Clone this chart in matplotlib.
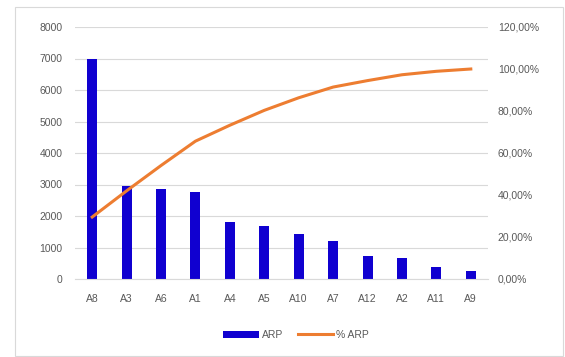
import numpy as np
import matplotlib.pyplot as plt
from matplotlib.patches import Rectangle
from matplotlib.ticker import FuncFormatter

categories = ["A8", "A3", "A6", "A1", "A4", "A5", "A10", "A7", "A12", "A2", "A11", "A9"]
arp = [7000, 2960, 2860, 2750, 1800, 1680, 1420, 1210, 730, 660, 390, 260]

# cumulative share of the total, in percent
arp_pct = np.cumsum(arp) / np.sum(arp) * 100

W, H = 565, 357
plt.rcParams['font.family'] = ['Liberation Sans', 'DejaVu Sans']

fig = plt.figure(figsize=(W / 100, H / 100), dpi=100)
fig.patch.set_facecolor('white')

# chart frame
fig.add_artist(Rectangle((15 / W, 1 / H), 548 / W, (H - 8) / H, transform=fig.transFigure,
                         fill=False, edgecolor='#d9d9d9', linewidth=0.8))

ax = fig.add_axes([75 / W, 1 - 279 / H, 413 / W, 252 / H])
ind = np.arange(len(categories))
bars = ax.bar(ind, arp, 0.29, color='#1000d0', zorder=2, label='ARP')
ax.set_xlim(-0.5, len(categories) - 0.5)
ax.set_ylim(0, 8000)
ax.set_yticks(np.arange(0, 8001, 1000))
ax.set_xticks(ind)
ax.set_xticklabels(categories)
ax.grid(axis='y', color='#d9d9d9', linewidth=0.8, zorder=0)
for s in ax.spines.values():
    s.set_visible(False)
ax.spines['bottom'].set_visible(True)
ax.spines['bottom'].set_color('#d9d9d9')
ax.tick_params(length=0, colors='#595959', labelsize=7.5)
ax.tick_params(axis='x', pad=11)
ax.tick_params(axis='y', pad=9)

ax2 = ax.twinx()
line, = ax2.plot(ind, arp_pct, color='#ed7d31', linewidth=2.2, zorder=3, label='% ARP')
ax2.set_ylim(0, 120)
ax2.set_yticks(np.arange(0, 121, 20))
ax2.yaxis.set_major_formatter(FuncFormatter(lambda v, p: ('%.2f%%' % v).replace('.', ',')))
for s in ax2.spines.values():
    s.set_visible(False)
ax2.tick_params(length=0, colors='#595959', labelsize=7.5, pad=7)

fig.legend([bars, line], ['ARP', '% ARP'], loc='center', bbox_to_anchor=(296 / W, 1 - 335 / H),
           ncol=2, frameon=False, fontsize=7.5, labelcolor='#595959',
           handlelength=3.4, handletextpad=0.3, columnspacing=1.4)

plt.savefig('out.png', dpi=100)
